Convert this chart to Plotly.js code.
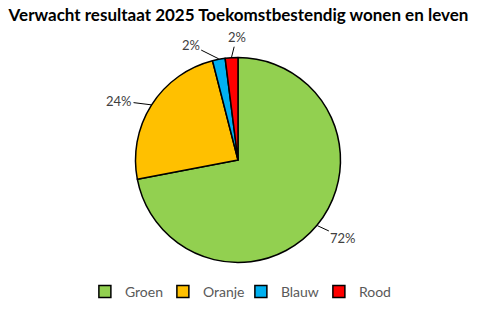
<!DOCTYPE html>
<html><head><meta charset="utf-8">
<script src="https://cdn.plot.ly/plotly-3.0.1.min.js"></script>
<style>html,body{margin:0;padding:0;background:#fff}</style>
</head><body>
<div id="chart" style="width:477px;height:309px"></div>
<script>
const categories = ["Groen", "Oranje", "Blauw", "Rood"];
const values = [72, 24, 2, 2];
const labelsText = ["72%", "24%", "2%", "2%"];
const colors = ["#92D050", "#FFC000", "#00B0F0", "#FF0000"];

// layout: label offsets (px) from slice edge midpoint
const labelOffset = [[26, 12], [-32, -4], [-28, -14], [5, -20]];

const W = 477, H = 309;
const cx = 238, cy = 160, R = 102.5;
const domX = [(cx - R) / W, (cx + R) / W];
const domY = [1 - (cy + R) / H, 1 - (cy - R) / H];

const total = values.reduce((a, b) => a + b, 0);
let cum = 0;
const annotations = [];
const Rv = 103;
values.forEach((v, i) => {
  const mid = (cum + v / 2) / total * 2 * Math.PI;
  cum += v;
  const sx = Math.sin(mid), sy = -Math.cos(mid);
  const ex = cx + Rv * sx, ey = cy + Rv * sy;
  annotations.push({
    x: ex / W, y: 1 - ey / H, xref: 'paper', yref: 'paper',
    text: labelsText[i], showarrow: true, arrowhead: 0, arrowwidth: 1,
    arrowcolor: '#000', ax: labelOffset[i][0], ay: labelOffset[i][1],
    font: {family: 'Lato, sans-serif', size: 13, color: '#404040'},
    standoff: 0
  });
});

const data = [{
  type: 'pie', labels: categories, values: values, sort: false,
  direction: 'clockwise', rotation: 0,
  marker: {colors: colors, line: {color: '#000', width: 1.5}},
  textinfo: 'none', hoverinfo: 'none',
  domain: {x: domX, y: domY}
}];

const layout = {
  width: W, height: H, margin: {l: 0, r: 0, t: 0, b: 0},
  paper_bgcolor: '#fff', showlegend: true,
  title: {text: '<b>Verwacht resultaat 2025 Toekomstbestendig wonen en leven</b>',
    font: {family: 'Lato, sans-serif', size: 17, color: '#000'},
    x: 0.5, xanchor: 'center', y: 1 - 15 / H, yanchor: 'middle'},
  legend: {orientation: 'h', x: 0.505, xanchor: 'center', y: 1 - 292 / H, yanchor: 'middle',
    font: {family: 'Lato, sans-serif', size: 14, color: '#595959'},
    entrywidth: 33, entrywidthmode: 'pixels', traceorder: 'normal'},
  annotations: annotations
};
Plotly.newPlot('chart', data, layout, {staticPlot: true, displayModeBar: false});
</script>
</body></html>
